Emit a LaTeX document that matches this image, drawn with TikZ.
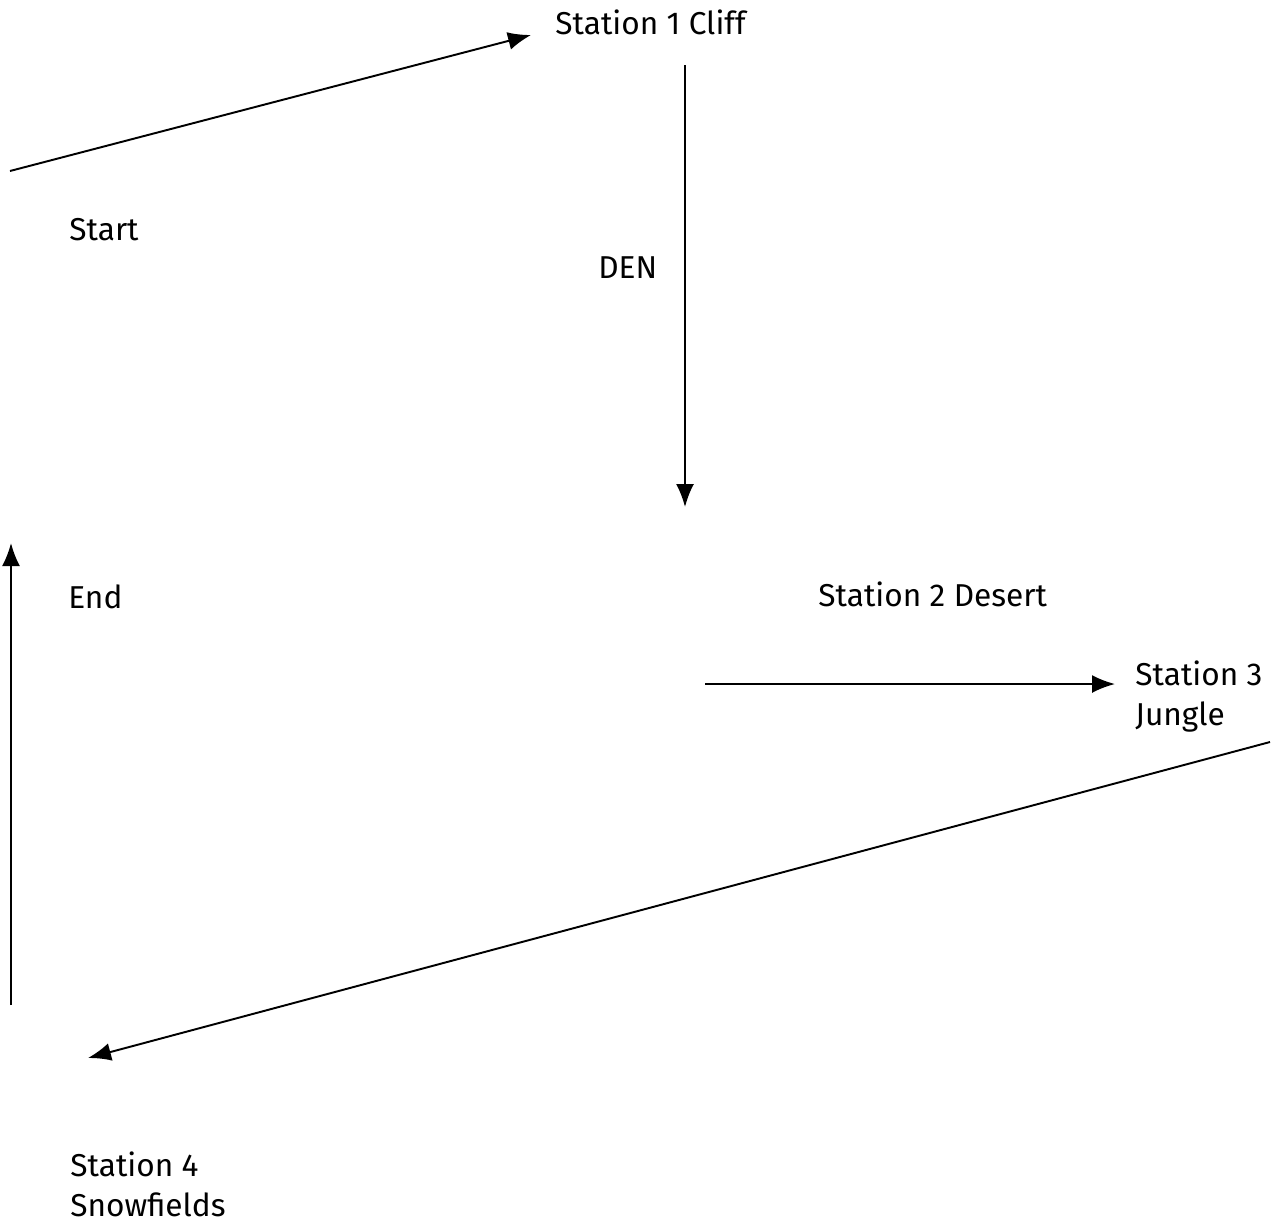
\documentclass[tikz,border=0pt]{standalone}
\usepackage{fontspec}
\setmainfont{Fira Sans}
\usetikzlibrary{arrows.meta}

\begin{document}
\begin{tikzpicture}[x=0.2mm,y=-0.2mm]
\tikzset{
  label/.style={font=\fontsize{18}{23}\selectfont,inner sep=0pt,anchor=west,align=left},
  flow/.style={-{Latex[length=4.6mm,width=3.6mm]},line width=1.1pt}
}
\useasboundingbox (0,0) rectangle (1272,1225);
% texts
\node[label] (t_start) at (69,230) {Start};
\node[label] (t_st1) at (555,22) {Station 1 Cliff};
\node[label] (t_den) at (598,268) {DEN};
\node[label] (t_end) at (68,597) {End};
\node[label] (t_st2) at (818,594) {Station 2 Desert};
\node[label,anchor=north west] (t_st3) at (1135,660) {Station 3\\Jungle};
\node[label,anchor=north west] (t_st4) at (70,1151) {Station 4\\Snowfields};
% ends of the arrows
\coordinate (c_a0) at (10,171);
\coordinate (c_a1) at (531,35);
\coordinate (c_b0) at (685,65);
\coordinate (c_b1) at (685,507);
\coordinate (c_c0) at (705,684);
\coordinate (c_c1) at (1115,684);
\coordinate (c_d0) at (1270,742);
\coordinate (c_d1) at (88,1058);
\coordinate (c_e0) at (11,1005);
\coordinate (c_e1) at (11,543);
\draw[flow] (c_a0) -- (c_a1);
\draw[flow] (c_b0) -- (c_b1);
\draw[flow] (c_c0) -- (c_c1);
\draw[flow] (c_d0) -- (c_d1);
\draw[flow] (c_e0) -- (c_e1);
\end{tikzpicture}
\end{document}
